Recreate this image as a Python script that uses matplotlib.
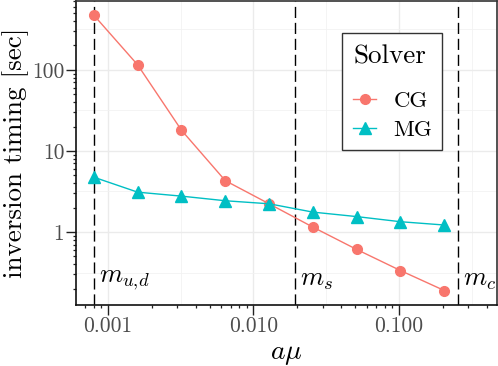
import numpy as np
import matplotlib
matplotlib.use("Agg")
import matplotlib.pyplot as plt
from matplotlib.ticker import FixedLocator, FixedFormatter, NullFormatter
from matplotlib.patches import Rectangle

plt.rcParams['font.family'] = 'serif'
plt.rcParams['font.serif'] = ['cmr10', 'DejaVu Serif']
plt.rcParams['mathtext.fontset'] = 'cm'
plt.rcParams['axes.unicode_minus'] = False

# data
a_mu = [0.0008, 0.0016, 0.0032, 0.0064, 0.0128, 0.0256, 0.0512, 0.1024, 0.2048]
cg_time = [471, 115, 18.0, 4.3, 2.23, 1.15, 0.61, 0.335, 0.19]
mg_time = [4.74, 3.1, 2.77, 2.43, 2.23, 1.76, 1.55, 1.34, 1.22]
mass_pos = [0.0008, 0.0193, 0.256]
mass_labels = [r'$m_{u,\!d}$', r'$m_s$', r'$m_c$']
x_ticks = [0.001, 0.01, 0.1]
x_ticklabels = ['0.001', '0.010', '0.100']
y_ticks = [1, 10, 100]
y_ticklabels = ['1', '10', '100']

CG_COL = '#F8766D'
MG_COL = '#00BFC4'

fig = plt.figure(figsize=(4.98, 3.66), dpi=100)
ax = fig.add_axes([76/498, 1-305/366, 421/498, 304/366])
ax.set_xscale('log')
ax.set_yscale('log')
ax.set_xlim(10**-3.22, 10**-0.326)
ax.set_ylim(10**-0.90, 10**2.849)

# grid
major_x = [10**-3, 10**-2, 10**-1]
minor_x = [10**-3.5, 10**-2.5, 10**-1.5, 10**-0.5]
major_y = [1, 10, 100]
minor_y = [10**-0.5, 10**0.5, 10**1.5, 10**2.5]
for v in major_x:
    ax.axvline(v, color='#EBEBEB', lw=1.0, zorder=0)
for v in minor_x:
    ax.axvline(v, color='#F2F2F2', lw=0.6, zorder=0)
for v in major_y:
    ax.axhline(v, color='#EBEBEB', lw=1.0, zorder=0)
for v in minor_y:
    ax.axhline(v, color='#F2F2F2', lw=0.6, zorder=0)

for xm, lab in zip(mass_pos, mass_labels):
    ax.axvline(xm, color='black', lw=1.0, linestyle=(0, (8, 3.5)), zorder=1)
    ax.annotate(lab, xy=(xm, 10**-0.594), xytext=(3.5, 0), textcoords='offset points',
                ha='left', va='center', fontsize=19)

ax.plot(a_mu, cg_time, color=CG_COL, lw=1.0, marker='o', ms=7, label='CG', zorder=3)
ax.plot(a_mu, mg_time, color=MG_COL, lw=1.0, marker='^', ms=8, label='MG', zorder=3)

# ticks
ax.xaxis.set_major_locator(FixedLocator(x_ticks))
ax.xaxis.set_major_formatter(FixedFormatter(x_ticklabels))
ax.yaxis.set_major_locator(FixedLocator(y_ticks))
ax.yaxis.set_major_formatter(FixedFormatter(y_ticklabels))
xm_t = [m * 10.0**e for e in range(-4, 0) for m in range(2, 10)]
ym_t = [m * 10.0**e for e in range(-1, 3) for m in range(2, 10)]
ax.xaxis.set_minor_locator(FixedLocator(xm_t))
ax.yaxis.set_minor_locator(FixedLocator(ym_t))
ax.xaxis.set_minor_formatter(NullFormatter())
ax.yaxis.set_minor_formatter(NullFormatter())
ax.tick_params(which='major', direction='out', length=7, width=1.0, color='#222222',
               labelsize=15.5, labelcolor='#4D4D4D', pad=1.5)
ax.tick_params(which='minor', direction='out', length=2.5, width=0.9, color='#222222')

for s in ['top', 'right']:
    ax.spines[s].set_color('#333333')
    ax.spines[s].set_linewidth(1.2)
for s in ['left', 'bottom']:
    ax.spines[s].set_color('#111111')
    ax.spines[s].set_linewidth(1.2)

ax.set_xlabel(r'$a\mu$', fontsize=20, labelpad=3)
ax.set_ylabel('inversion timing [sec]', fontsize=19.5, labelpad=2)

# legend box drawn by hand
x0, x1 = (342 - 76) / 421, (442 - 76) / 421
y0, y1 = (305 - 150) / 304, (305 - 33) / 304
ax.add_patch(Rectangle((x0, y0), x1 - x0, y1 - y0, transform=ax.transAxes,
                       facecolor='white', edgecolor='#333333', lw=1.0, zorder=5))
leg = ax.legend(title='Solver', loc='upper left', bbox_to_anchor=(x0, y1),
                fontsize=16.5, title_fontsize=19.5, frameon=False,
                borderpad=0.5, borderaxespad=0.0, handlelength=1.0,
                handletextpad=0.74, labelspacing=0.40)
leg.set_zorder(6)
leg._legend_box.align = 'left'
leg._legend_box.sep = 16.5

fig.savefig('out.png', dpi=100)
